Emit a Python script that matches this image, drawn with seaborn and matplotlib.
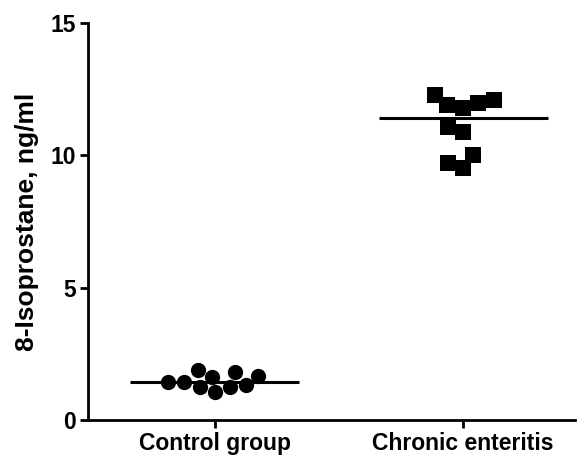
import numpy as np
import pandas as pd
import seaborn as sns
import matplotlib.pyplot as plt

# values (ng/ml)
groups = ["Control group", "Chronic enteritis"]
control = [1.62, 1.25, 1.32, 1.80, 1.05, 1.88, 1.42, 1.24, 1.45, 1.68]
enteritis = [12.08, 11.80, 12.00, 12.27, 11.90, 11.06, 10.87, 10.00, 9.54, 9.73]

df = pd.DataFrame({
    "group": [groups[0]] * len(control) + [groups[1]] * len(enteritis),
    "value": control + enteritis,
})

sns.set_style("ticks")
plt.rcParams["font.family"] = ["Liberation Sans", "DejaVu Sans"]
plt.rcParams["font.weight"] = "bold"
plt.rcParams["text.color"] = "black"

fig = plt.figure(figsize=(5.79, 4.63), dpi=100)
ax = fig.add_axes([0.152, 0.093, 0.841, 0.857])

sns.swarmplot(data=df[df.group == groups[0]], x="group", y="value", order=groups,
              marker="o", color="black", size=11, ax=ax)
sns.swarmplot(data=df[df.group == groups[1]], x="group", y="value", order=groups,
              marker="s", color="black", size=11, ax=ax)

# median bars
for i, vals in enumerate([control, enteritis]):
    m = np.median(vals)
    ax.hlines(m, i - 0.34, i + 0.34, color="black", lw=2.2, zorder=5)

ax.set_xlim(-0.51, 1.45)
ax.set_ylim(0, 15)
ax.set_yticks([0, 5, 10, 15])
ax.set_xlabel("")
ax.set_ylabel("8-Isoprostane, ng/ml", fontsize=19, fontweight="bold",
              labelpad=8, color="black")
ax.tick_params(axis="both", labelsize=16.5, width=2, length=6, color="black",
               labelcolor="black", pad=3)
for lab in ax.get_xticklabels() + ax.get_yticklabels():
    lab.set_fontweight("bold")
for s in ["left", "bottom"]:
    ax.spines[s].set_linewidth(2)
    ax.spines[s].set_color("black")
sns.despine(ax=ax)

fig.savefig("out.png", dpi=100)
